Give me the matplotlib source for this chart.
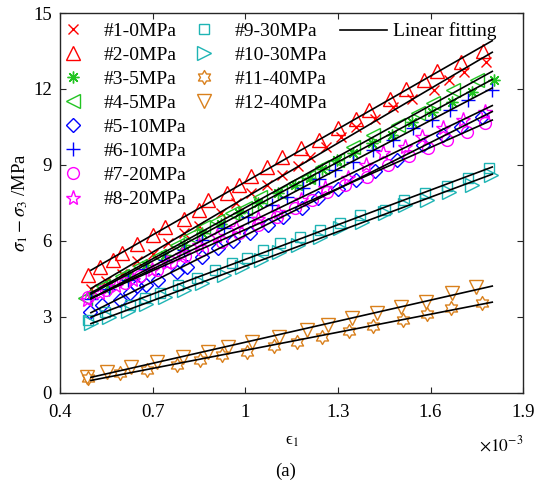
import numpy as np
import matplotlib
matplotlib.use('Agg')
import matplotlib.pyplot as plt
from matplotlib.path import Path

plt.rcParams['font.family'] = ['Liberation Serif', 'DejaVu Serif']
plt.rcParams['mathtext.fontset'] = 'stix'

# strain in units of 1e-3, deviatoric stress in MPa
x1 = [0.50, 0.55, 0.60, 0.65, 0.70, 0.75, 0.80, 0.85, 0.92, 0.97, 1.02, 1.07, 1.12,
      1.17, 1.21, 1.26, 1.31, 1.36, 1.42, 1.48, 1.54, 1.61, 1.66, 1.71, 1.78]
y1 = [4.10, 4.40, 4.70, 5.20, 5.50, 5.90, 6.30, 6.60, 7.10, 7.50, 7.90, 8.20, 8.60,
      8.96, 9.30, 9.70, 10.10, 10.50, 10.80, 11.30, 11.60, 11.96, 12.35, 12.67, 13.07]
x2 = [0.49, 0.53, 0.57, 0.60, 0.65, 0.70, 0.74, 0.80, 0.85, 0.88, 0.94, 0.98, 1.02,
      1.07, 1.12, 1.18, 1.24, 1.30, 1.36, 1.40, 1.47, 1.52, 1.58, 1.62, 1.70, 1.77]
y2 = [4.66, 4.97, 5.25, 5.53, 5.88, 6.24, 6.55, 6.87, 7.22, 7.62, 7.90, 8.21, 8.57,
      8.92, 9.30, 9.67, 10.00, 10.44, 10.82, 11.17, 11.61, 12.00, 12.36, 12.71, 13.07, 13.50]
x3 = [0.50, 0.56, 0.62, 0.68, 0.74, 0.80, 0.86, 0.92, 0.98, 1.04, 1.106, 1.16, 1.21,
      1.25, 1.297, 1.349, 1.41, 1.475, 1.54, 1.605, 1.67, 1.735, 1.806]
y3 = [3.85, 4.25, 4.60, 5.05, 5.45, 5.85, 6.30, 6.65, 7.10, 7.50, 7.90, 8.20, 8.49,
      8.85, 9.20, 9.47, 9.87, 10.18, 10.70, 11.10, 11.49, 11.88, 12.36]
x4 = [0.48, 0.54, 0.60, 0.66, 0.72, 0.78, 0.82, 0.863, 0.91, 0.957, 0.999, 1.048,
      1.113, 1.16, 1.203, 1.25, 1.297, 1.349, 1.414, 1.495, 1.56, 1.608, 1.673, 1.75]
y4 = [3.75, 4.20, 4.60, 5.00, 5.40, 5.85, 6.20, 6.55, 6.80, 7.10, 7.30, 7.74,
      7.94, 8.30, 8.53, 8.90, 9.20, 9.69, 10.18, 10.58, 11.05, 11.44, 11.96, 12.36]
x5 = [0.497, 0.536, 0.594, 0.627, 0.649, 0.68, 0.718, 0.779, 0.811, 0.86, 0.912, 0.96,
      1.015, 1.074, 1.122, 1.184, 1.236, 1.30, 1.36, 1.42, 1.49, 1.576, 1.64, 1.70, 1.767]
y5 = [3.20, 3.47, 3.67, 3.95, 4.20, 4.26, 4.46, 4.78, 4.97, 5.37, 5.70, 6.00,
      6.30, 6.63, 6.95, 7.30, 7.70, 8.05, 8.40, 8.75, 9.20, 9.79, 10.20, 10.50, 10.90]
x6 = [0.50, 0.56, 0.62, 0.68, 0.74, 0.80, 0.86, 0.93, 1.009, 1.087, 1.135, 1.187,
      1.24, 1.29, 1.349, 1.414, 1.479, 1.543, 1.605, 1.663, 1.722, 1.80]
y6 = [3.70, 4.10, 4.45, 4.90, 5.25, 5.65, 6.05, 6.50, 6.95, 7.42, 7.74, 8.10,
      8.45, 8.80, 9.12, 9.60, 10.00, 10.46, 10.78, 11.17, 11.57, 11.96]
x7 = [0.49, 0.55, 0.61, 0.66, 0.714, 0.76, 0.805, 0.86, 0.925, 0.98, 1.041, 1.103,
      1.161, 1.216, 1.265, 1.323, 1.394, 1.462, 1.53, 1.592, 1.654, 1.718, 1.777]
y7 = [3.79, 4.05, 4.35, 4.60, 4.86, 5.15, 5.41, 5.65, 5.96, 6.30, 6.63, 6.95,
      7.30, 7.62, 7.94, 8.20, 8.53, 9.00, 9.35, 9.67, 10.00, 10.30, 10.66]
x8 = [0.487, 0.53, 0.58, 0.637, 0.698, 0.747, 0.795, 0.85, 0.91, 0.97, 1.04, 1.106,
      1.18, 1.258, 1.333, 1.39, 1.446, 1.518, 1.573, 1.64, 1.706, 1.777]
y8 = [3.67, 3.95, 4.20, 4.46, 4.86, 5.13, 5.45, 5.85, 6.20, 6.50, 6.85, 7.14,
      7.60, 8.10, 8.49, 9.00, 9.47, 9.71, 10.10, 10.46, 10.78, 11.10]
x9 = [0.49, 0.546, 0.627, 0.675, 0.724, 0.782, 0.844, 0.902, 0.957, 1.006, 1.058,
      1.113, 1.177, 1.242, 1.307, 1.372, 1.453, 1.515, 1.582, 1.652, 1.722, 1.79]
y9 = [2.88, 3.20, 3.47, 3.75, 3.95, 4.26, 4.54, 4.86, 5.13, 5.33, 5.65,
      5.92, 6.16, 6.43, 6.71, 7.03, 7.22, 7.60, 7.90, 8.15, 8.49, 8.88]
x10 = [0.50, 0.56, 0.62, 0.68, 0.74, 0.80, 0.86, 0.93, 0.99, 1.05, 1.11, 1.171,
       1.242, 1.307, 1.378, 1.453, 1.518, 1.589, 1.66, 1.735, 1.796]
y10 = [2.75, 3.00, 3.25, 3.50, 3.80, 4.05, 4.35, 4.65, 4.95, 5.25, 5.55, 5.84,
       6.16, 6.51, 6.75, 7.10, 7.42, 7.62, 7.95, 8.21, 8.60]
x11 = [0.49, 0.594, 0.682, 0.779, 0.853, 0.925, 1.006, 1.093, 1.168, 1.249, 1.336,
       1.414, 1.511, 1.589, 1.667, 1.767]
y11 = [0.59, 0.79, 0.91, 1.10, 1.30, 1.50, 1.62, 1.86, 2.01, 2.21, 2.45,
       2.65, 2.88, 3.12, 3.36, 3.55]
x12 = [0.487, 0.552, 0.63, 0.714, 0.798, 0.879, 0.944, 1.022, 1.11, 1.20, 1.268,
       1.346, 1.427, 1.505, 1.586, 1.67, 1.748]
y12 = [0.63, 0.83, 1.03, 1.22, 1.42, 1.62, 1.82, 2.01, 2.20, 2.49, 2.68,
       2.96, 3.16, 3.40, 3.59, 3.95, 4.18]

labels = ['#1-0MPa', '#2-0MPa', '#3-5MPa', '#4-5MPa', '#5-10MPa', '#6-10MPa',
          '#7-20MPa', '#8-20MPa', '#9-30MPa', '#10-30MPa', '#11-40MPa', '#12-40MPa']
xs = [x1, x2, x3, x4, x5, x6, x7, x8, x9, x10, x11, x12]
ys = [y1, y2, y3, y4, y5, y6, y7, y8, y9, y10, y11, y12]

# star of David outline
ang = np.deg2rad(90 + 30 * np.arange(12))
rad = np.where(np.arange(12) % 2 == 0, 1.0, 1 / np.sqrt(3))
hv = np.column_stack([rad * np.cos(ang), rad * np.sin(ang)])
hexagram = Path(np.vstack([hv, hv[:1]]), closed=True)

red = '#FF0000'
green = '#22C422'
blue = '#0000FF'
mag = '#FF00FF'
cyan = '#1EB4B4'
orange = '#D9801C'
styles = [('x', red, 7.5), ('^', red, 10), ((8, 2, 0), green, 8.5), ('<', green, 10),
          ('D', blue, 7.5), ('+', blue, 9.5), ('o', mag, 8.5), ('*', mag, 11),
          ('s', cyan, 7.5), ('>', cyan, 10), (hexagram, orange, 10), ('v', orange, 10)]

fig = plt.figure(figsize=(5.36, 4.82), dpi=100)
ax = fig.add_axes([0.112, 0.185, 0.864, 0.788])

handles = []
for x, y, lab, (m, c, ms) in zip(xs, ys, labels, styles):
    h, = ax.plot(x, y, linestyle='none', marker=m, markersize=ms, mec=c, mfc='none',
                 mew=1.0, label=lab)
    handles.append(h)

xf = np.array([0.5, 1.8])
for x, y in zip(xs, ys):
    k, b = np.polyfit(x, y, 1)
    fl, = ax.plot(xf, k * xf + b, color='black', lw=1.2)
fl.set_label('Linear fitting')

ax.set_xlim(0.4, 1.9)
ax.set_ylim(0, 15)
ax.set_xticks([0.4, 0.7, 1.0, 1.3, 1.6, 1.9])
ax.set_xticklabels(['0.4', '0.7', '1', '1.3', '1.6', '1.9'])
ax.set_yticks([0, 3, 6, 9, 12, 15])
ax.tick_params(direction='in', top=True, right=True, labelsize=13.5, length=4, pad=6,
               width=0.8, color='#262626')
ax.tick_params(axis='x', pad=8)
for s in ax.spines.values():
    s.set_linewidth(1.0)
    s.set_color('#262626')

ax.set_ylabel(r'$\sigma_1-\sigma_3$ /MPa', fontsize=13.5, labelpad=2)
ax.set_xlabel('\u03f5$_1$', fontsize=12, labelpad=9)
ax.text(1.0, -0.137, r'$\times10^{-3}$', transform=ax.transAxes, ha='right', va='center',
        fontsize=12.5)
fig.text(0.532, 0.004, '(a)', ha='center', va='bottom', fontsize=13.5)

lkw = dict(frameon=False, fontsize=14, loc='upper left', borderaxespad=0, borderpad=0,
           labelspacing=0.33, handletextpad=0.95, handlelength=1.2, numpoints=1)
leg1 = ax.legend(handles=handles[:8], bbox_to_anchor=(0.003, 0.975), **lkw)
ax.add_artist(leg1)
leg2 = ax.legend(handles=handles[8:], bbox_to_anchor=(0.286, 0.975), **lkw)
ax.add_artist(leg2)
lkw.update(handlelength=2.42, handletextpad=0.3)
ax.legend(handles=[fl], bbox_to_anchor=(0.605, 0.975), **lkw)

fig.savefig('out.png', dpi=100)
